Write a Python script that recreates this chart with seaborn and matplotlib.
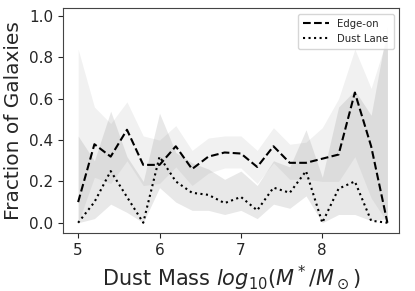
import numpy as np
import pandas as pd
import matplotlib
matplotlib.use("Agg")
import matplotlib.pyplot as plt
import seaborn as sns

# Data
dust_mass = [5.0, 5.2, 5.4, 5.6, 5.8, 6.0, 6.2, 6.4, 6.6, 6.8,
             7.0, 7.2, 7.4, 7.6, 7.8, 8.0, 8.2, 8.4, 8.6, 8.8]
edge_on = [0.10, 0.38, 0.32, 0.45, 0.28, 0.28, 0.37, 0.26, 0.32, 0.34,
           0.335, 0.27, 0.37, 0.29, 0.29, 0.31, 0.33, 0.63, 0.37, 0.0]
edge_lo = [0.0, 0.22, 0.19, 0.30, 0.18, 0.19, 0.27, 0.18, 0.24, 0.265,
           0.265, 0.19, 0.29, 0.21, 0.21, 0.20, 0.20, 0.32, 0.12, 0.0]
edge_hi = [0.84, 0.56, 0.48, 0.585, 0.42, 0.40, 0.47, 0.35, 0.41, 0.42,
           0.42, 0.35, 0.46, 0.38, 0.39, 0.46, 0.60, 0.84, 0.65, 0.90]
dust_lane = [0.0, 0.10, 0.25, 0.125, 0.0, 0.32, 0.20, 0.145, 0.135, 0.095,
             0.125, 0.06, 0.17, 0.145, 0.25, 0.0, 0.165, 0.20, 0.01, 0.0]
dust_lo = [0.0, 0.02, 0.09, 0.05, 0.0, 0.17, 0.10, 0.06, 0.06, 0.04,
           0.06, 0.02, 0.09, 0.07, 0.13, 0.0, 0.04, 0.04, 0.01, 0.02]
dust_hi = [0.42, 0.30, 0.54, 0.32, 0.20, 0.53, 0.34, 0.29, 0.26, 0.21,
           0.25, 0.18, 0.30, 0.27, 0.45, 0.22, 0.56, 0.64, 0.52, 0.95]

df = pd.DataFrame({
    "mass": dust_mass * 2,
    "frac": edge_on + dust_lane,
    "kind": ["Edge-on"] * len(dust_mass) + ["Dust Lane"] * len(dust_mass),
})

sns.set_style("ticks")
fig = plt.figure(figsize=(4.15, 2.91), dpi=100)
ax = fig.add_axes([0.151, 0.199, 0.810, 0.772])

ax.fill_between(dust_mass, edge_lo, edge_hi, color="grey", alpha=0.11, linewidth=0)
ax.fill_between(dust_mass, dust_lo, dust_hi, color="grey", alpha=0.18, linewidth=0)

sns.lineplot(data=df, x="mass", y="frac", style="kind",
             dashes={"Edge-on": (3.7, 1.6), "Dust Lane": (1, 1.65)},
             color="black", linewidth=1.5, ax=ax)

ax.set_xlim(4.81, 8.94)
ax.set_ylim(-0.05, 1.037)
ax.set_xticks([5, 6, 7, 8])
ax.set_yticks([0.0, 0.2, 0.4, 0.6, 0.8, 1.0])
ax.tick_params(labelsize=11)
ax.set_xlabel(r"Dust Mass $log_{10}(M^*/M_\odot)$", fontsize=15)
ax.set_ylabel("Fraction of Galaxies", fontsize=14.5)
for s in ax.spines.values():
    s.set_color("#444444")
leg = ax.legend(loc="upper right", fontsize=7.3, title=None, frameon=True,
                handlelength=2.6, borderpad=0.5)
fig.savefig("out.png", dpi=100)
